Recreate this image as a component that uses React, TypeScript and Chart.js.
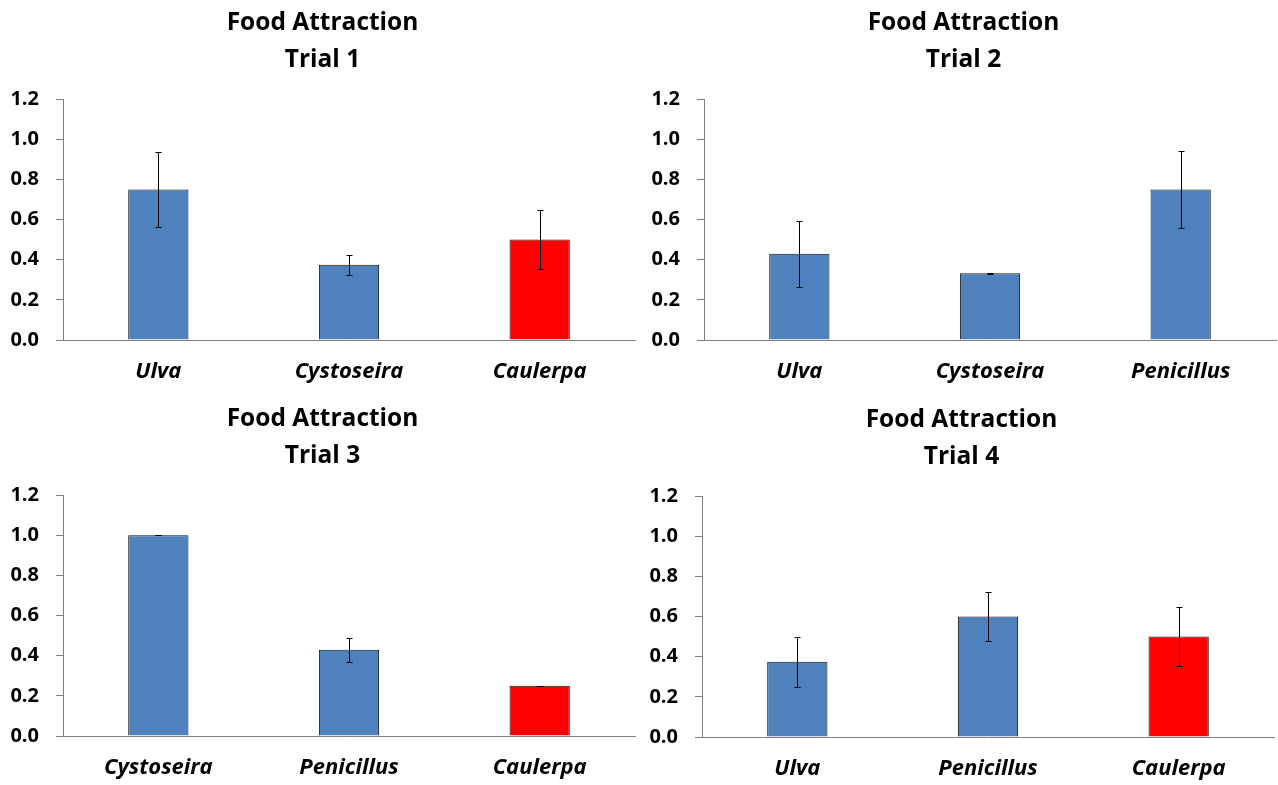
import React, { useEffect, useRef } from "react";
import { Chart, registerables } from "chart.js";

Chart.register(...registerables);

const TITLE_MAIN = "Food Attraction";
const TRIALS = ["Trial 1", "Trial 2", "Trial 3", "Trial 4"];

const cats1 = ["Ulva", "Cystoseira", "Caulerpa"];
const vals1 = [0.75, 0.375, 0.5];
const errs1 = [0.187, 0.05, 0.147];

const cats2 = ["Ulva", "Cystoseira", "Penicillus"];
const vals2 = [0.43, 0.333, 0.75];
const errs2 = [0.165, 0.002, 0.19];

const cats3 = ["Cystoseira", "Penicillus", "Caulerpa"];
const vals3 = [1.0, 0.43, 0.25];
const errs3 = [0.0, 0.06, 0.0];

const cats4 = ["Ulva", "Penicillus", "Caulerpa"];
const vals4 = [0.375, 0.6, 0.5];
const errs4 = [0.125, 0.12, 0.146];

const yTicks = [0, 0.2, 0.4, 0.6, 0.8, 1.0, 1.2];

const BLUE = "#4F81BD";
const RED = "#FF0000";
const FONT = "'Open Sans', Lato, sans-serif";

const colorFor = (c: string) => (c === "Caulerpa" ? RED : BLUE);

const errorBarPlugin = {
  id: "errorBars",
  afterDatasetsDraw(chart: any) {
    const ds = chart.data.datasets[0];
    const errs: number[] = ds.errors || [];
    const meta = chart.getDatasetMeta(0);
    const yScale = chart.scales.y;
    const ctx = chart.ctx;
    ctx.save();
    ctx.strokeStyle = "#000";
    ctx.lineWidth = 1;
    meta.data.forEach((bar: any, i: number) => {
      const v = ds.data[i];
      const e = errs[i] || 0;
      const x = Math.round(bar.x) + 0.5;
      const yT = Math.round(yScale.getPixelForValue(v + e)) + 0.5;
      const yB = Math.round(yScale.getPixelForValue(v - e)) + 0.5;
      ctx.beginPath();
      ctx.moveTo(x, yT);
      ctx.lineTo(x, yB);
      ctx.moveTo(x - 3, yT);
      ctx.lineTo(x + 3, yT);
      ctx.moveTo(x - 3, yB);
      ctx.lineTo(x + 3, yB);
      ctx.stroke();
    });
    ctx.restore();
  },
};

function BarPanel({ cats, vals, errs, trial }: { cats: string[]; vals: number[]; errs: number[]; trial: string }) {
  const ref = useRef<HTMLCanvasElement | null>(null);
  useEffect(() => {
    if (!ref.current) return;
    const chart = new Chart(ref.current, {
      type: "bar",
      data: {
        labels: cats,
        datasets: [
          {
            data: vals,
            errors: errs,
            backgroundColor: cats.map(colorFor),
            borderColor: "#111",
            borderWidth: 1,
            barPercentage: 0.316,
            categoryPercentage: 1,
          } as any,
        ],
      },
      options: {
        responsive: false,
        animation: false,
        devicePixelRatio: 1,
        layout: { padding: { left: 10, right: 4, top: 0, bottom: 11 } },
        plugins: {
          legend: { display: false },
          tooltip: { enabled: false },
          title: {
            display: true,
            text: [TITLE_MAIN, trial],
            color: "#000",
            font: { family: FONT, size: 24.5, weight: "bold", lineHeight: 1.49 },
            padding: { top: 5, bottom: 21 },
          },
        },
        scales: {
          x: {
            afterFit: (s: any) => {
              s.height = 44;
            },
            grid: { display: false, drawTicks: false },
            border: { display: true, color: "#7f7f7f", width: 1 },
            ticks: {
              color: "#000",
              padding: 19,
              font: { family: FONT, size: 22, weight: "bold", style: "italic" },
            },
          },
          y: {
            min: 0,
            max: 1.2,
            afterFit: (s: any) => {
              s.width = 53;
            },
            afterBuildTicks: (scale: any) => {
              scale.ticks = yTicks.map((v) => ({ value: v }));
            },
            grid: { drawOnChartArea: false, drawTicks: true, tickLength: 7, color: "#7f7f7f" },
            border: { display: true, color: "#7f7f7f", width: 1 },
            ticks: {
              color: "#000",
              padding: 17,
              font: { family: FONT, size: 20, weight: "bold" },
              callback: (v: any) => Number(v).toFixed(1),
            },
          },
        },
      } as any,
      plugins: [errorBarPlugin],
    });
    return () => chart.destroy();
  }, []);
  return <canvas ref={ref} width={639} height={395} style={{ display: "block" }} />;
}

export default function App() {
  const pos = (left: number, top: number): React.CSSProperties => ({ position: "absolute", left, top, width: 639, height: 395 });
  return (
    <div style={{ position: "absolute", left: 0, top: 0, width: 1278, height: 785, background: "#fff", overflow: "hidden" }}>
      <div style={pos(0, 0)}>
        <BarPanel cats={cats1} vals={vals1} errs={errs1} trial={TRIALS[0]} />
      </div>
      <div style={pos(641, 0)}>
        <BarPanel cats={cats2} vals={vals2} errs={errs2} trial={TRIALS[1]} />
      </div>
      <div style={pos(0, 396)}>
        <BarPanel cats={cats3} vals={vals3} errs={errs3} trial={TRIALS[2]} />
      </div>
      <div style={pos(639, 397)}>
        <BarPanel cats={cats4} vals={vals4} errs={errs4} trial={TRIALS[3]} />
      </div>
    </div>
  );
}
